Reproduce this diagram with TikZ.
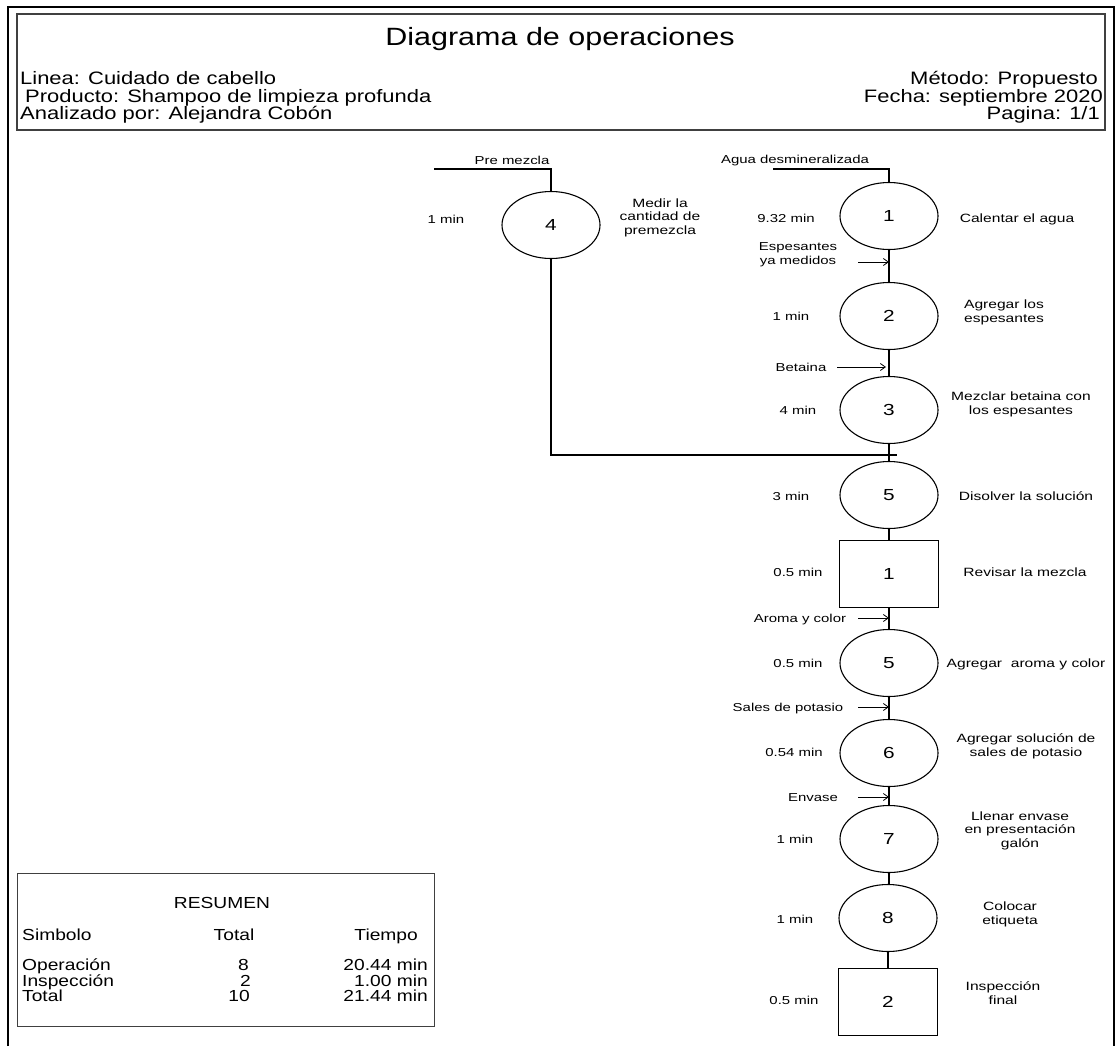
\documentclass[tikz,border=0pt]{standalone}
\usepackage{fontspec}
\setmainfont{Liberation Sans}
\newfontfamily\flowfont[FakeStretch=1.3]{Liberation Sans}
\newfontfamily\headfont[FakeStretch=1.22]{Liberation Sans}
\newfontfamily\sumfont[FakeStretch=1.2]{Liberation Sans}
\usetikzlibrary{shapes.geometric,arrows.meta}

\begin{document}
\begin{tikzpicture}[x=1pt,y=-1pt,
  op/.style={draw, ellipse, line width=1.1pt, minimum width=98pt, minimum height=67pt,
    inner sep=0pt, font=\flowfont\fontsize{16}{18}\selectfont},
  insp/.style={draw, rectangle, line width=1.1pt, minimum width=99pt, minimum height=67pt,
    inner sep=0pt, font=\flowfont\fontsize{16}{18}\selectfont},
  lbl/.style={inner sep=0pt, align=center, text height=8.3pt, text depth=0pt,
    font=\flowfont\fontsize{11.5}{13.6}\selectfont},
  desc/.style={lbl, text height=8.7pt, font=\flowfont\fontsize{12}{13.6}\selectfont},
  head/.style={inner sep=0pt, text height=13pt, text depth=0pt,
    font=\headfont\fontsize{18}{20}\selectfont},
  sum/.style={inner sep=0pt, text height=11.5pt, text depth=0pt,
    font=\sumfont\fontsize{16}{18}\selectfont},
  flow/.style={line width=1.2pt},
  feed/.style={line width=0.8pt, -{Straight Barb[length=5pt,width=7pt]}},
]
% page
\fill[white] (0,0) rectangle (1118,1046);
\useasboundingbox (0,0) rectangle (1118,1046);

% outer frame and header box
\draw[line width=1.6pt] (8,1046) -- (8,7) -- (1114,7) -- (1114,1046);
\draw[line width=1.3pt, black!75] (17,14) rectangle (1105,130);

% header
\node[inner sep=0pt, text height=18pt, text depth=0pt,
  font=\headfont\fontsize{25}{28}\selectfont] (title) at (560,37) {Diagrama de operaciones};
\node[head, anchor=west] (linea) at (20,78) {Linea: Cuidado de cabello};
\node[head, anchor=west] (prod) at (25,96) {Producto: Shampoo de limpieza profunda};
\node[head, anchor=west] (anal) at (20,113) {Analizado por: Alejandra Cobón};
\node[head, anchor=east] (metodo) at (1098,78) {Método: Propuesto};
\node[head, anchor=east] (fecha) at (1103,96) {Fecha: septiembre 2020};
\node[head, anchor=east] (pag) at (1100,113) {Pagina: 1/1};

% operations and inspections
\node[op] (c4) at (551,225) {4};
\node[op] (c1) at (889,216) {1};
\node[op] (c2) at (889,316) {2};
\node[op] (c3) at (889,410) {3};
\node[op] (c5) at (889,495) {5};
\node[insp] (i1) at (889,574) {1};
\node[op] (c5b) at (889,663) {5};
\node[op] (c6) at (889,753) {6};
\node[op] (c7) at (889,839) {7};
\node[op] (c8) at (888,918) {8};
\node[insp] (i2) at (888,1002) {2};

% main line
\draw[flow] (c1) -- (c2);
\draw[flow] (c2) -- (c3);
\draw[flow] (c3) -- (c5);
\draw[flow] (c5) -- (i1);
\draw[flow] (i1) -- (c5b);
\draw[flow] (c5b) -- (c6);
\draw[flow] (c6) -- (c7);
\draw[flow] (c7.south) -- (c7.south |- c8.north);
\draw[flow] (c8) -- (i2);

% starting materials
\coordinate (aguaL) at (773,169);
\coordinate (preL) at (434,169);
\draw[flow] (aguaL) -| (c1.north);
\draw[flow] (preL) -| (c4.north);
\node[lbl] (agua) at (795,159) {Agua desmineralizada};
\node[lbl] (pre) at (512,160) {Pre mezcla};

% premix joins the main line
\coordinate (join) at (897,455);
\draw[flow] (c4.south) |- (join);

% materials fed into the line
\coordinate (fEsp) at (858,262);
\coordinate (fBet) at (837,367);
\coordinate (fAro) at (858,618);
\coordinate (fSal) at (858,707);
\coordinate (fEnv) at (858,797);
\draw[feed] (fEsp) -- (fEsp -| c1.south);
\draw[feed] (fBet) -- ([xshift=-3pt]fBet -| c2.south);
\draw[feed] (fAro) -- (fAro -| i1.south);
\draw[feed] (fSal) -- (fSal -| c5b.south);
\draw[feed] (fEnv) -- (fEnv -| c6.south);
\node[lbl] (espes) at (798,260) {Espesantes\\ya medidos};
\node[lbl] (beta) at (801,367) {Betaina};
\node[lbl] (aroma) at (800,618) {Aroma y color};
\node[lbl] (sales) at (788,707) {Sales de potasio};
\node[lbl] (envase) at (813,797) {Envase};

% times
\node[lbl] (t4) at (446,219) {1 min};
\node[lbl] (t1) at (786,218) {9.32 min};
\node[lbl] (t2) at (791,316) {1 min};
\node[lbl] (t3) at (798,410) {4 min};
\node[lbl] (t5) at (791,496) {3 min};
\node[lbl] (ti1) at (798,572) {0.5 min};
\node[lbl] (t5b) at (798,663) {0.5 min};
\node[lbl] (t6) at (794,752) {0.54 min};
\node[lbl] (t7) at (795,839) {1 min};
\node[lbl] (t8) at (795,919) {1 min};
\node[lbl] (ti2) at (794,1000) {0.5 min};

% descriptions
\node[desc] (d4) at (660,230) {Medir la\\cantidad de\\premezcla};
\node[desc] (d1) at (1017,218) {Calentar el agua};
\node[desc] (d2) at (1004,318) {Agregar los\\espesantes};
\node[desc] (d3) at (1021,410) {Mezclar betaina con\\los espesantes};
\node[desc] (d5) at (1026,496) {Disolver la solución};
\node[desc] (di1) at (1025,572) {Revisar la mezcla};
\node[desc] (d5b) at (1026,663) {Agregar\ \ aroma y color};
\node[desc] (d6) at (1026,752) {Agregar solución de\\sales de potasio};
\node[desc] (d7) at (1020,843) {Llenar envase\\en presentación\\galón};
\node[desc] (d8) at (1010,920) {Colocar\\etiqueta};
\node[desc] (di2) at (1003,1000) {Inspección\\final};

% summary
\draw[line width=0.9pt, black!75] (17,873) rectangle (434,1026);
\node[sum] (res) at (222,903) {RESUMEN};
\node[sum, anchor=west] (hSim) at (22,935) {Simbolo};
\node[sum] (hTot) at (234,935) {Total};
\node[sum, anchor=east] (hTie) at (418,935) {Tiempo};
\node[sum, anchor=west] (rOp) at (22,965) {Operación};
\node[sum, anchor=west] (rIn) at (22,981) {Inspección};
\node[sum, anchor=west] (rTo) at (22,996) {Total};
\node[sum, anchor=east] (nOp) at (249,965) {8};
\node[sum, anchor=east] (nIn) at (251,981) {2};
\node[sum, anchor=east] (nTo) at (250,996) {10};
\node[sum, anchor=east] (mOp) at (428,965) {20.44 min};
\node[sum, anchor=east] (mIn) at (428,981) {1.00 min};
\node[sum, anchor=east] (mTo) at (428,996) {21.44 min};
\end{tikzpicture}
\end{document}
